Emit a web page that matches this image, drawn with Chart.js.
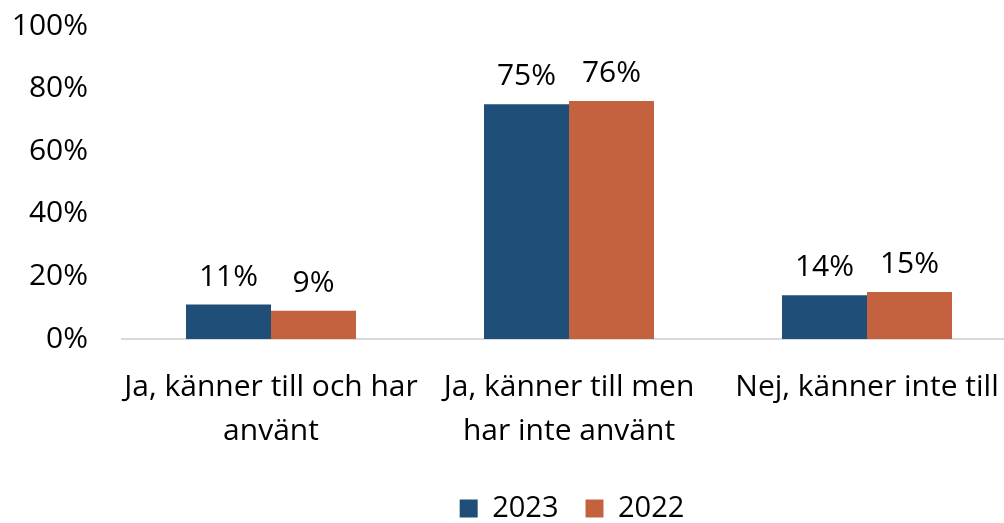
<!DOCTYPE html>
<html>
<head>
<meta charset="utf-8">
<script src="https://cdn.jsdelivr.net/npm/chart.js@4/dist/chart.umd.min.js"></script>
<style>
html,body{margin:0;padding:0;overflow:hidden;background:#fff;}
#wrap{width:1144px;height:523px;position:relative;}
</style>
</head>
<body>
<div id="wrap"><canvas id="c" width="1144" height="523"></canvas></div>
<script>
const categories = [["Ja, känner till och har", "använt"], ["Ja, känner till men", "har inte använt"], "Nej, känner inte till"];
const seriesNames = ["2023", "2022"];
const values2023 = [11, 75, 14];
const values2022 = [9, 76, 15];
const yTicks = [0, 20, 40, 60, 80, 100];

const FONT = "'Open Sans', 'Noto Sans', sans-serif";
const FS = 30;

const dataLabels = {
  id: 'dataLabels',
  afterDatasetsDraw(chart) {
    const ctx = chart.ctx;
    ctx.save();
    ctx.font = FS + "px " + FONT;
    ctx.fillStyle = '#000';
    ctx.textAlign = 'center';
    ctx.textBaseline = 'alphabetic';
    chart.data.datasets.forEach((ds, i) => {
      chart.getDatasetMeta(i).data.forEach((bar, j) => {
        ctx.fillText(ds.data[j] + '%', bar.x, bar.y - 19);
      });
    });
    ctx.restore();
  }
};

new Chart(document.getElementById('c'), {
  type: 'bar',
  data: {
    labels: categories,
    datasets: [
      { label: seriesNames[0], data: values2023, backgroundColor: '#1F4E79', yAxisID: 'y' },
      { label: seriesNames[1], data: values2022, backgroundColor: '#C4623F', yAxisID: 'y' }
    ]
  },
  options: {
    responsive: false,
    animation: false,
    devicePixelRatio: 1,
    layout: { padding: { top: 26, left: 0, right: 0, bottom: -10 } },
    datasets: { bar: { categoryPercentage: 0.5705, barPercentage: 1.0, borderWidth: 0 } },
    scales: {
      x: {
        grid: { display: false, drawTicks: false },
        border: { display: true, color: '#d9d9d9', width: 2 },
        ticks: { color: '#000', font: { family: FONT, size: FS, lineHeight: 1.45 }, padding: 27, maxRotation: 0, autoSkip: false },
        afterFit(s) { s.height = 128; }
      },
      y: {
        position: 'left',
        min: 0, max: 100,
        afterBuildTicks(s) { s.ticks = yTicks.map(v => ({ value: v })); },
        grid: { display: false, drawTicks: true, tickLength: 34 },
        border: { display: false },
        ticks: { color: '#000', font: { family: FONT, size: FS }, padding: 0, callback: v => v + '%' },
        afterFit(s) { s.width = 122; }
      },
      yR: {
        position: 'right',
        min: 0, max: 100,
        grid: { display: false, drawTicks: false },
        border: { display: false },
        ticks: { display: false },
        afterFit(s) { s.width = 128; }
      }
    },
    plugins: {
      legend: {
        position: 'bottom',
        labels: { color: '#000', font: { family: FONT, size: 29 }, boxWidth: 18, boxHeight: 18, padding: 27 }
      },
      tooltip: { enabled: false }
    }
  },
  plugins: [dataLabels]
});
</script>
</body>
</html>
